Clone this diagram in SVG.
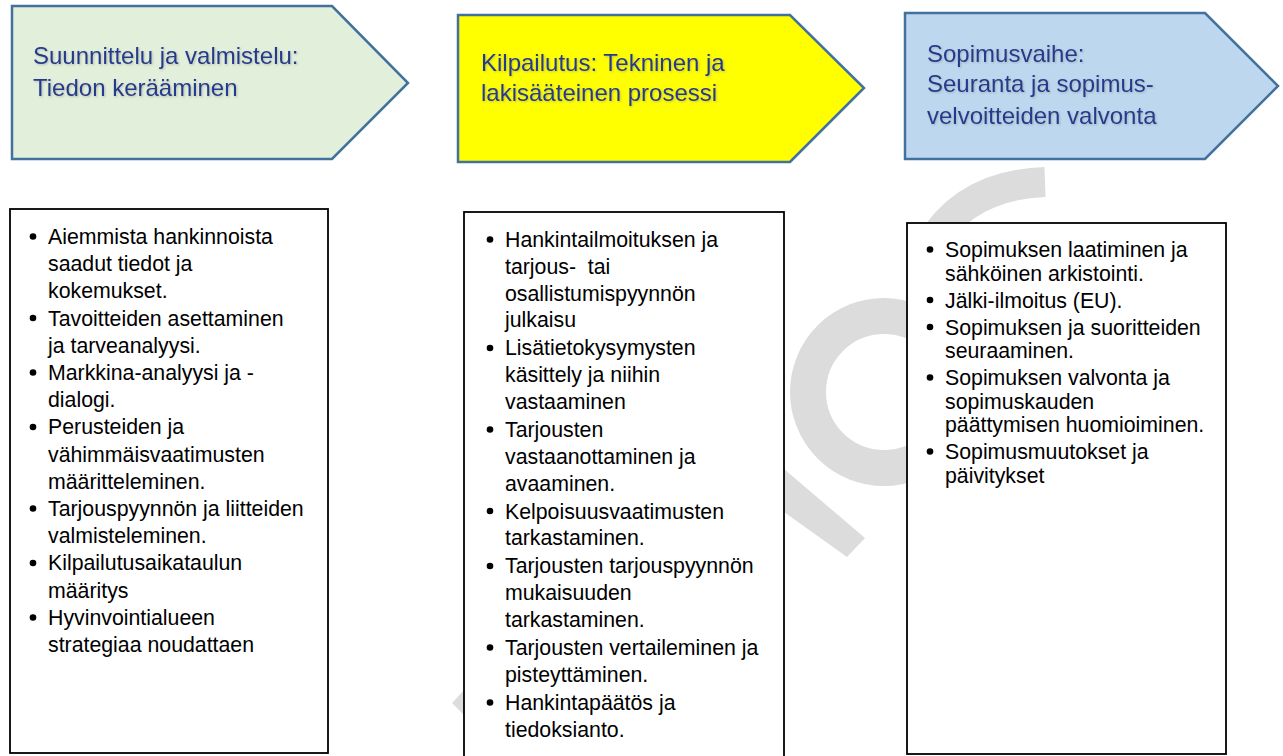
<svg xmlns="http://www.w3.org/2000/svg" width="1283" height="756" viewBox="0 0 1283 756">
<style>
.hdr{stroke:#41719c;stroke-width:2.5}
.ht{font-family:"Liberation Sans",Arial,sans-serif;font-size:24px;fill:#243b8c}
.box{fill:#ffffff;stroke:#000000;stroke-width:1.8}
.bt{font-family:"Liberation Sans",Arial,sans-serif;font-size:21.3px;fill:#000000}
.wm{fill:#dcdcdc}
.dot{fill:#000000}
</style>
<defs>
<filter id="sh" x="-5%" y="-20%" width="110%" height="140%">
<feDropShadow dx="1" dy="1" stdDeviation="1" flood-color="#808080" flood-opacity="0.45"/>
</filter>
</defs>
<rect width="1283" height="756" fill="#ffffff"/>
<g id="watermark">
<circle cx="884" cy="392" r="76" fill="none" stroke="#dcdcdc" stroke-width="36"/>
<polygon class="wm" points="784,469 865,538 847,557 784,512"/>
<path d="M 930 245 Q 965 185 1045 182" fill="none" stroke="#dcdcdc" stroke-width="30"/>
<polygon class="wm" points="466,688 452,703 466,717"/>
</g>
<g id="connectors"></g>
<g id="phase1">
<polygon class="hdr" fill="#e2efda" points="12,6 332,6 408,83 332,159 12,159"/>
<g filter="url(#sh)">
<text class="ht" x="33" y="64">Suunnittelu ja valmistelu:</text>
<text class="ht" x="33" y="96">Tiedon kerääminen</text>
</g>
</g>
<g id="phase2">
<polygon class="hdr" fill="#ffff00" points="458,15 790,15 864,88 790,162 458,162"/>
<g filter="url(#sh)">
<text class="ht" x="481" y="71">Kilpailutus: Tekninen ja</text>
<text class="ht" x="481" y="101">lakisääteinen prosessi</text>
</g>
</g>
<g id="phase3">
<polygon class="hdr" fill="#bdd7ee" points="905,13 1205,13 1278,86 1205,159 905,159"/>
<g filter="url(#sh)">
<text class="ht" x="927" y="62">Sopimusvaihe:</text>
<text class="ht" x="927" y="92">Seuranta ja sopimus-</text>
<text class="ht" x="927" y="124">velvoitteiden valvonta</text>
</g>
</g>
<g id="list1">
<rect class="box" x="10" y="209" width="318" height="544"/>
<circle class="dot" cx="33" cy="236.5" r="3.3"/>
<circle class="dot" cx="33" cy="318" r="3.3"/>
<circle class="dot" cx="33" cy="372.5" r="3.3"/>
<circle class="dot" cx="33" cy="427" r="3.3"/>
<circle class="dot" cx="33" cy="508.5" r="3.3"/>
<circle class="dot" cx="33" cy="563" r="3.3"/>
<circle class="dot" cx="33" cy="617.5" r="3.3"/>
<text class="bt" x="48" y="244">Aiemmista hankinnoista</text>
<text class="bt" x="48" y="271.2">saadut tiedot ja</text>
<text class="bt" x="48" y="298.4">kokemukset.</text>
<text class="bt" x="48" y="325.6">Tavoitteiden asettaminen</text>
<text class="bt" x="48" y="352.8">ja tarveanalyysi.</text>
<text class="bt" x="48" y="380">Markkina-analyysi ja -</text>
<text class="bt" x="48" y="407.2">dialogi.</text>
<text class="bt" x="48" y="434.4">Perusteiden ja</text>
<text class="bt" x="48" y="461.6">vähimmäisvaatimusten</text>
<text class="bt" x="48" y="488.8">määritteleminen.</text>
<text class="bt" x="48" y="516">Tarjouspyynnön ja liitteiden</text>
<text class="bt" x="48" y="543.2">valmisteleminen.</text>
<text class="bt" x="48" y="570.4">Kilpailutusaikataulun</text>
<text class="bt" x="48" y="597.6">määritys</text>
<text class="bt" x="48" y="624.8">Hyvinvointialueen</text>
<text class="bt" x="48" y="652">strategiaa noudattaen</text>
</g>
<g id="list2">
<rect class="box" x="464" y="212" width="320" height="550"/>
<circle class="dot" cx="490" cy="239.5" r="3.3"/>
<circle class="dot" cx="490" cy="348" r="3.3"/>
<circle class="dot" cx="490" cy="429.5" r="3.3"/>
<circle class="dot" cx="490" cy="511" r="3.3"/>
<circle class="dot" cx="490" cy="566" r="3.3"/>
<circle class="dot" cx="490" cy="647.5" r="3.3"/>
<circle class="dot" cx="490" cy="702.5" r="3.3"/>
<text class="bt" x="505" y="247">Hankintailmoituksen ja</text>
<text class="bt" x="505" y="273.8" xml:space="preserve">tarjous-  tai</text>
<text class="bt" x="505" y="300.6">osallistumispyynnön</text>
<text class="bt" x="505" y="327.4">julkaisu</text>
<text class="bt" x="505" y="355.4">Lisätietokysymysten</text>
<text class="bt" x="505" y="382.2">käsittely ja niihin</text>
<text class="bt" x="505" y="409">vastaaminen</text>
<text class="bt" x="505" y="437">Tarjousten</text>
<text class="bt" x="505" y="463.8">vastaanottaminen ja</text>
<text class="bt" x="505" y="490.6">avaaminen.</text>
<text class="bt" x="505" y="518.6">Kelpoisuusvaatimusten</text>
<text class="bt" x="505" y="545.4">tarkastaminen.</text>
<text class="bt" x="505" y="573.4">Tarjousten tarjouspyynnön</text>
<text class="bt" x="505" y="600.2">mukaisuuden</text>
<text class="bt" x="505" y="627">tarkastaminen.</text>
<text class="bt" x="505" y="655">Tarjousten vertaileminen ja</text>
<text class="bt" x="505" y="681.8">pisteyttäminen.</text>
<text class="bt" x="505" y="709.8">Hankintapäätös ja</text>
<text class="bt" x="505" y="736.6">tiedoksianto.</text>
</g>
<g id="list3">
<rect class="box" x="907" y="223" width="319" height="531"/>
<circle class="dot" cx="930" cy="249.5" r="3.3"/>
<circle class="dot" cx="930" cy="300" r="3.3"/>
<circle class="dot" cx="930" cy="327" r="3.3"/>
<circle class="dot" cx="930" cy="377.5" r="3.3"/>
<circle class="dot" cx="930" cy="451.5" r="3.3"/>
<text class="bt" x="945" y="257">Sopimuksen laatiminen ja</text>
<text class="bt" x="945" y="280.5">sähköinen arkistointi.</text>
<text class="bt" x="945" y="307.5">Jälki-ilmoitus (EU).</text>
<text class="bt" x="945" y="334.5">Sopimuksen ja suoritteiden</text>
<text class="bt" x="945" y="358">seuraaminen.</text>
<text class="bt" x="945" y="385">Sopimuksen valvonta ja</text>
<text class="bt" x="945" y="408.5">sopimuskauden</text>
<text class="bt" x="945" y="432">päättymisen huomioiminen.</text>
<text class="bt" x="945" y="459">Sopimusmuutokset ja</text>
<text class="bt" x="945" y="482.5">päivitykset</text>
</g>
</svg>
